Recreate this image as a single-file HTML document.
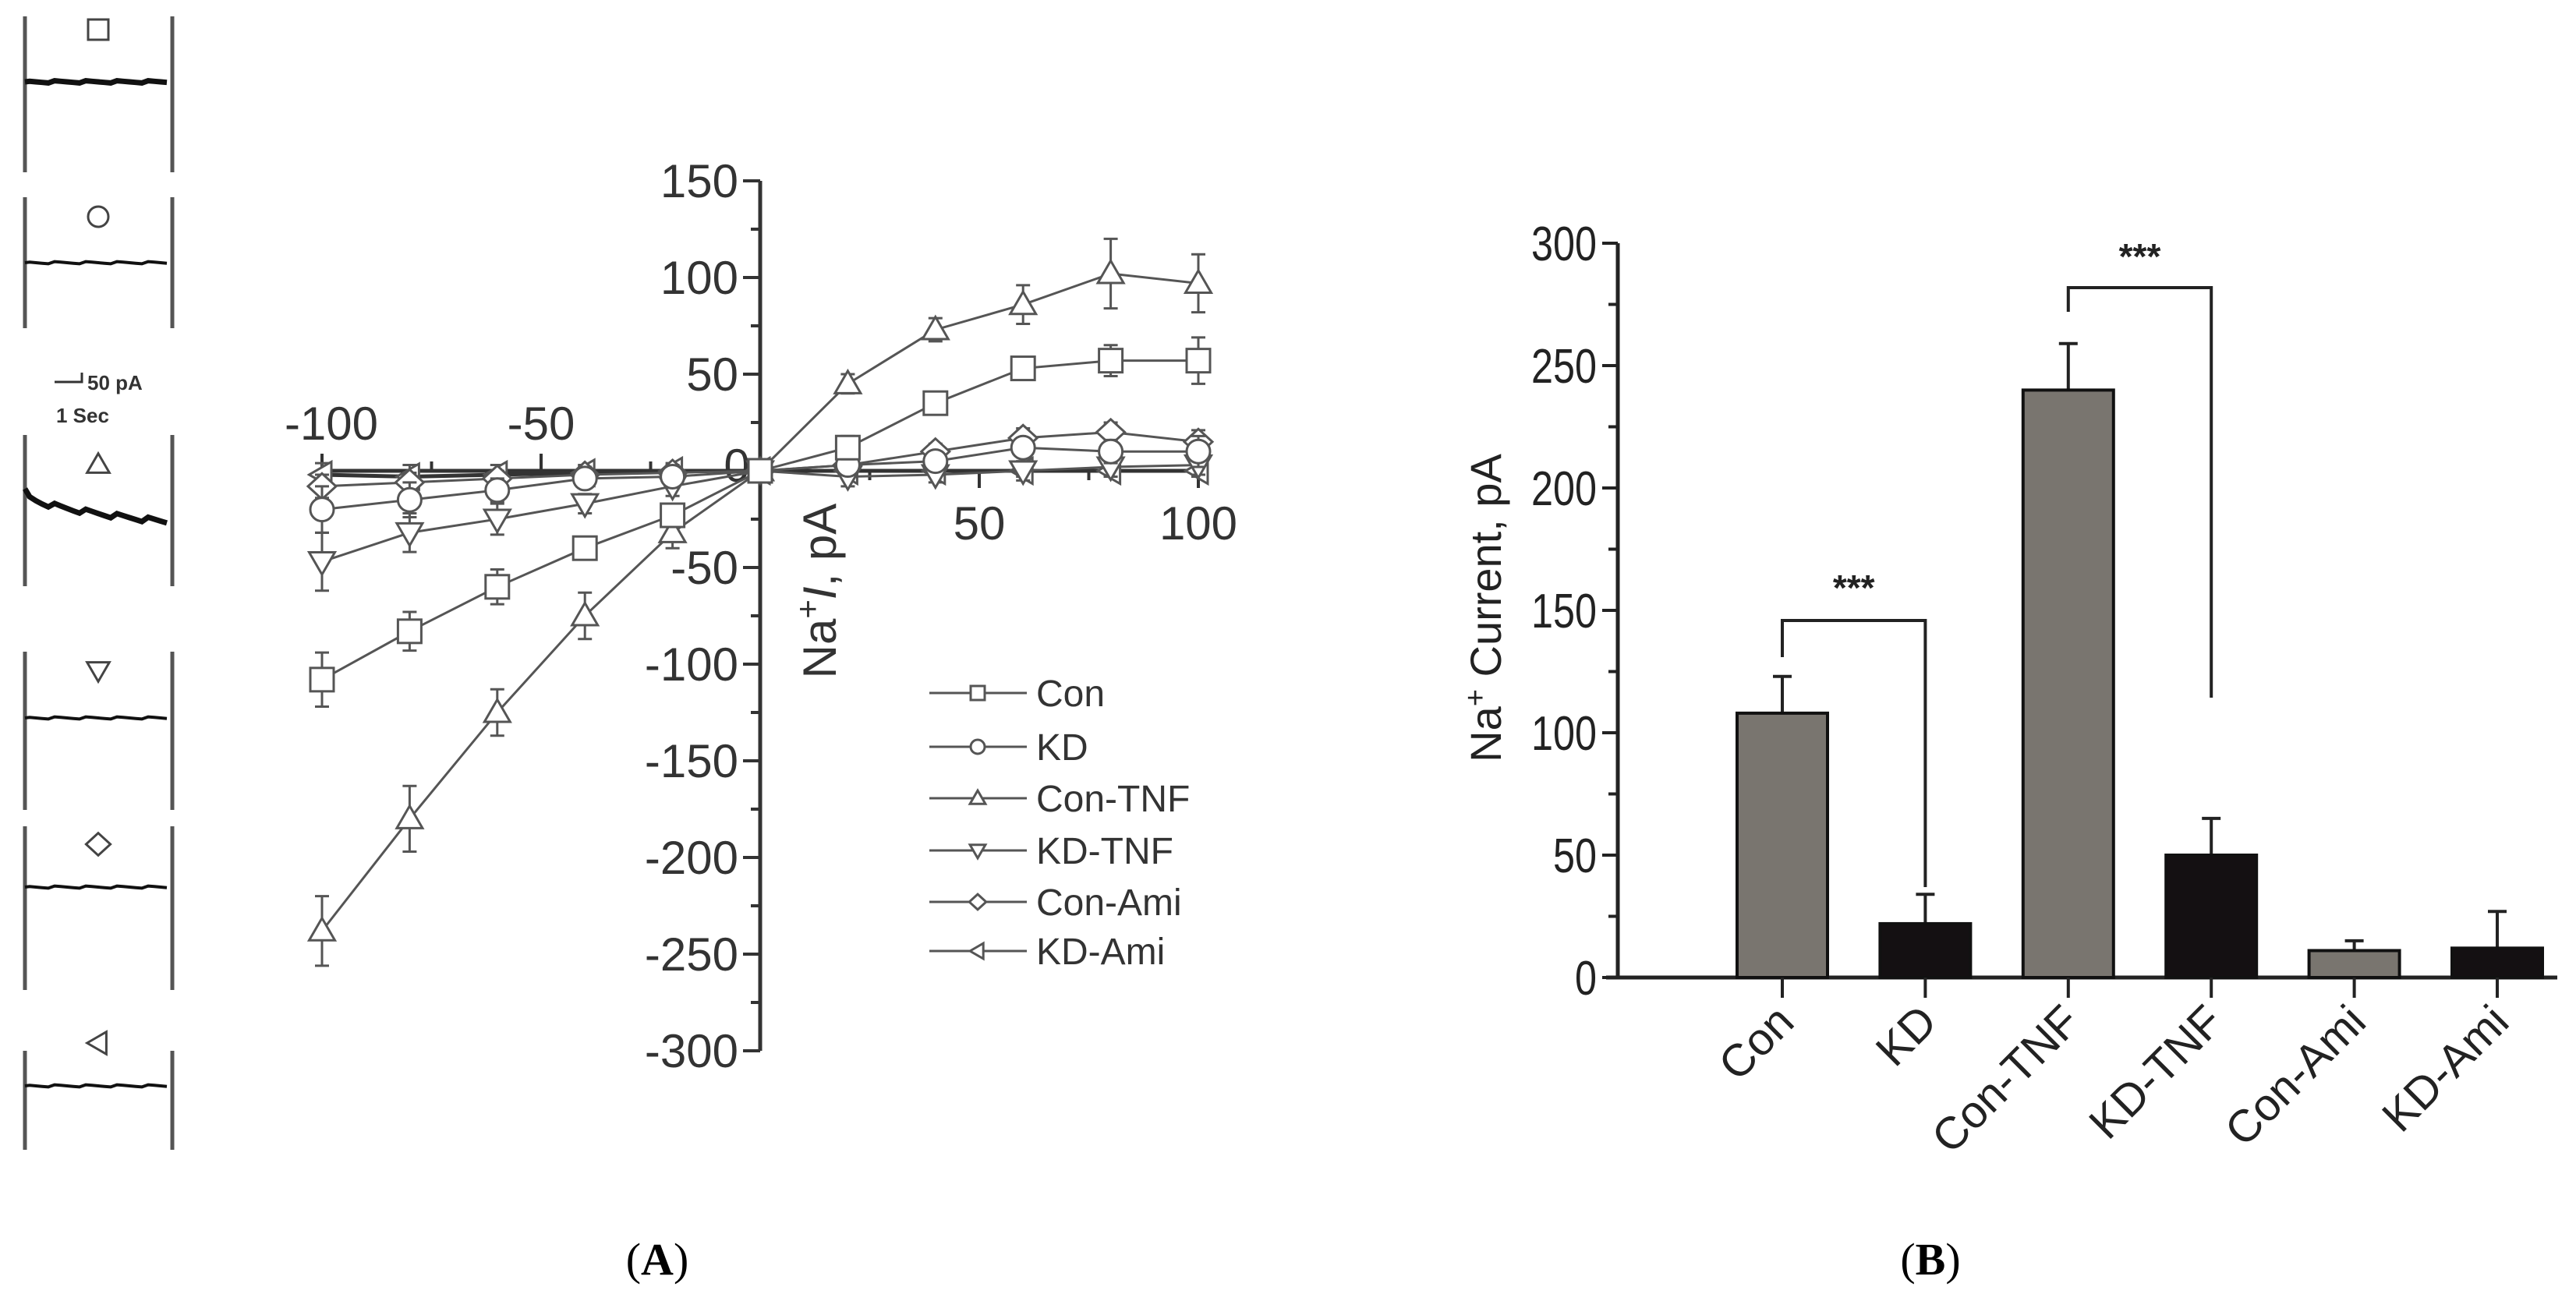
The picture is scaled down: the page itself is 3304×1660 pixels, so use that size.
<!DOCTYPE html>
<html><head><meta charset="utf-8"><style>
html,body{margin:0;padding:0;background:#fff;}
svg{display:block;font-family:"Liberation Sans",sans-serif;}
</style></head><body>
<svg id="fig" width="3304" height="1660" viewBox="0 0 3304 1660" xmlns="http://www.w3.org/2000/svg">
<rect width="3304" height="1660" fill="#fff"/>
<g id="traces"></g>
<g id="chartA"></g>
<g id="chartB"></g>
<text x="843" y="1635" font-family="Liberation Serif,serif" font-size="58" text-anchor="middle">(<tspan font-weight="bold">A</tspan>)</text>
<text x="2476" y="1635" font-family="Liberation Serif,serif" font-size="58" text-anchor="middle">(<tspan font-weight="bold">B</tspan>)</text>
</svg>
<script>
// ---- Chart A data ----
const voltages = [-100,-80,-60,-40,-20,0,20,40,60,80,100];
const seriesNames = ["Con","KD","Con-TNF","KD-TNF","Con-Ami","KD-Ami"];
const conVals = [-108,-83,-60,-40,-23,0,12,35,53,57,57];
const kdVals = [-20,-15,-10,-4,-3,0,3,5,12,10,10];
const conTnfVals = [-238,-180,-125,-75,-32,0,45,73,86,102,97];
const kdTnfVals = [-47,-32,-25,-17,-8,0,-3,-2,0,2,3];
const conAmiVals = [-8,-6,-4,-2,-1,0,3,10,17,20,15];
const kdAmiVals = [-2,-3,-2,-1,0,0,0,0,0,0,0];
const conErr = [14,10,9,5,5,3,6,4,5,8,12];
const kdErr = [12,9,6,4,4,3,4,4,5,6,8];
const conTnfErr = [18,17,12,12,8,3,5,6,10,18,15];
const kdTnfErr = [15,10,8,5,5,3,5,4,5,5,5];
const conAmiErr = [6,5,4,4,4,3,3,4,5,5,6];
const kdAmiErr = [6,6,5,4,4,3,3,3,3,3,3];
const yTicksA = [150,100,50,0,-50,-100,-150,-200,-250,-300];
// ---- Chart B data ----
const barCats = ["Con","KD","Con-TNF","KD-TNF","Con-Ami","KD-Ami"];
const barVals = [108,22,240,50,11,12];
const barErrs = [15,12,19,15,4,15];
const yTicksB = [0,50,100,150,200,250,300];

const NS="http://www.w3.org/2000/svg";
function mk(parent,tag,attrs,text){const e=document.createElementNS(NS,tag);for(const k in attrs)e.setAttribute(k,attrs[k]);if(text!==undefined)e.textContent=text;parent.appendChild(e);return e;}

// ---- traces ----
const tr=document.getElementById('traces');
const traceY=[105,337,632,921,1138,1393];
const barTop=[21,253,558,836,1060,1348], barBot=[221,421,752,1039,1270,1475];
const markY=[38,278,596,860,1083,1338];
const markers=["square","circle","up","down","diamond","left"];
function marker(g,type,cx,cy,s,stroke,sw){
  const a={fill:'#fff',stroke:stroke,'stroke-width':sw};
  if(type==='square')return mk(g,'rect',Object.assign({x:cx-s,y:cy-s,width:2*s,height:2*s},a));
  if(type==='circle')return mk(g,'circle',Object.assign({cx:cx,cy:cy,r:s},a));
  let p;
  if(type==='up')p=[[cx,cy-s*1.1],[cx+s*1.1,cy+s*0.8],[cx-s*1.1,cy+s*0.8]];
  if(type==='down')p=[[cx,cy+s*1.1],[cx+s*1.1,cy-s*0.8],[cx-s*1.1,cy-s*0.8]];
  if(type==='diamond')p=[[cx,cy-s*1.1],[cx+s*1.2,cy],[cx,cy+s*1.1],[cx-s*1.2,cy]];
  if(type==='left')p=[[cx-s*1.1,cy],[cx+s*0.8,cy-s*1.1],[cx+s*0.8,cy+s*1.1]];
  return mk(g,'polygon',Object.assign({points:p.map(q=>q.join(',')).join(' ')},a));
}
for(let i=0;i<6;i++){
  const g=mk(tr,'g',{});
  
  
  mk(g,'line',{x1:32,y1:barTop[i],x2:32,y2:barBot[i],stroke:'#555','stroke-width':5});
  mk(g,'line',{x1:221,y1:barTop[i],x2:221,y2:barBot[i],stroke:'#555','stroke-width':5});
  const y0=traceY[i]; const y1=(i===2)?y0+38:y0;
  let d='M32,'+(i===2?y0-5:y0);
  for(let x=38;x<=221;x+=8){const t=(x-32)/189;d+=' L'+x+','+(y0+(y1-y0)*Math.sqrt(t)+((x*7)%5-2)*(i===2?1.6:0.7)).toFixed(1);}
  mk(g,'path',{d:d,fill:'none',stroke:'#111','stroke-width':(i===0||i===2)?7:4});
  marker(g,markers[i],126,markY[i],13,'#444',3);
}
mk(tr,'path',{d:'M70,490 L105,490 L105,478',fill:'none',stroke:'#333','stroke-width':3});
const sc=mk(tr,'text',{x:112,y:500,'font-size':26,'font-weight':'bold',fill:'#333'},'50 pA');

const sc2=mk(tr,'text',{x:72,y:542,'font-size':26,'font-weight':'bold',fill:'#333'},'1 Sec');


// ---- Chart A ----
const A=document.getElementById('chartA');
const ax0=975, ay0=604, pxX=5.62, pxY=2.48;
const xA=v=>ax0+v*pxX, yA=v=>ay0-v*pxY;
const axc='#333';
mk(A,'line',{x1:ax0,y1:yA(150),x2:ax0,y2:yA(-300),stroke:axc,'stroke-width':5});
mk(A,'line',{x1:xA(-100),y1:ay0,x2:xA(100),y2:ay0,stroke:axc,'stroke-width':5});
for(let v=-300;v<=150;v+=25){const maj=v%50===0;mk(A,'line',{x1:ax0,y1:yA(v),x2:ax0-(maj?22:12),y2:yA(v),stroke:axc,'stroke-width':4});}
for(let v=-100;v<=100;v+=25){if(v===0)continue;const maj=v%50===0;const dir=v<0?-1:1;mk(A,'line',{x1:xA(v),y1:ay0,x2:xA(v),y2:ay0+dir*(maj?22:12),stroke:axc,'stroke-width':4});}
yTicksA.forEach(v=>{if(v===0)return;const t=mk(A,'text',{x:ax0-28,y:yA(v)+21,'font-size':60,'text-anchor':'end',fill:'#333'},String(v));
});
[[-100,564],[-50,564],[50,692],[100,692]].forEach(p=>{const t=mk(A,'text',{x:xA(p[0])+(p[0]===-100?12:0),y:p[1],'font-size':60,'text-anchor':'middle',fill:'#333'},String(p[0]));
});
const z=mk(A,'text',{x:945,y:618,'font-size':60,'text-anchor':'middle',fill:'#333'},'0');

const yl=mk(A,'text',{transform:'translate(1072,758) rotate(-90)','font-size':60,'text-anchor':'middle',fill:'#333'});

yl.innerHTML='Na<tspan dy="-22" font-size="42">+</tspan><tspan dy="22" font-style="italic">I</tspan>, pA';
const allVals=[conVals,kdVals,conTnfVals,kdTnfVals,conAmiVals,kdAmiVals];
const allErr=[conErr,kdErr,conTnfErr,kdTnfErr,conAmiErr,kdAmiErr];
const sc_col=['#555','#555','#555','#555','#555','#333'];
for(let s=5;s>=0;s--){
  const g=mk(A,'g',{});
  
  
  const vals=allVals[s], err=allErr[s];
  mk(g,'polyline',{points:voltages.map((v,i)=>xA(v)+','+yA(vals[i])).join(' '),fill:'none',stroke:sc_col[s],'stroke-width':s===5?5:3});
  voltages.forEach((v,i)=>{
    const x=xA(v),y=yA(vals[i]),e=err[i]*pxY;
    mk(g,'line',{x1:x,y1:y-e,x2:x,y2:y+e,stroke:'#555','stroke-width':3});
    mk(g,'line',{x1:x-9,y1:y-e,x2:x+9,y2:y-e,stroke:'#555','stroke-width':3});
    mk(g,'line',{x1:x-9,y1:y+e,x2:x+9,y2:y+e,stroke:'#555','stroke-width':3});
    const m=marker(g,markers[s],x,y,15,'#555',3);
    
    
  });
}
const legY=[889,958,1024,1091,1157,1220];
seriesNames.forEach((n,i)=>{
  const g=mk(A,'g',{});
  
  
  mk(g,'line',{x1:1192,y1:legY[i],x2:1317,y2:legY[i],stroke:'#555','stroke-width':3});
  marker(g,markers[i],1254,legY[i],9,'#555',3);
  mk(g,'text',{x:1329,y:legY[i]+17,'font-size':48,fill:'#333'},n);
});

// ---- Chart B ----
const B=document.getElementById('chartB');
const bx0=2075, by0=1254, bTop=312, pyB=(by0-bTop)/300;
const yB=v=>by0-v*pyB;
const xB=i=>2286+i*183.4;
mk(B,'line',{x1:bx0,y1:bTop,x2:bx0,y2:by0,stroke:'#222','stroke-width':5});
mk(B,'line',{x1:2060,y1:by0,x2:3280,y2:by0,stroke:'#222','stroke-width':5});
for(let v=0;v<=300;v+=25){const maj=v%50===0;mk(B,'line',{x1:bx0,y1:yB(v),x2:bx0-(maj?20:12),y2:yB(v),stroke:'#222','stroke-width':4});}
yTicksB.forEach(v=>{const t=mk(B,'text',{x:2048,y:yB(v)+22,'font-size':62,'text-anchor':'end',fill:'#222',textLength:String(v).length*28,lengthAdjust:'spacingAndGlyphs'},String(v));
});
const ylb=mk(B,'text',{transform:'translate(1925,780) rotate(-90)','font-size':56,'text-anchor':'middle',fill:'#222'});

ylb.innerHTML='Na<tspan dy="-20" font-size="38">+</tspan><tspan dy="20"> Current, pA</tspan>';
barCats.forEach((c,i)=>{
  const x=xB(i), w=116, col=(i%2===0)?'#79756f':'#141012';
  const e=barErrs[i]*pyB, top=yB(barVals[i]);
  mk(B,'line',{x1:x,y1:top,x2:x,y2:top-e,stroke:'#222','stroke-width':4});
  mk(B,'line',{x1:x-12,y1:top-e,x2:x+12,y2:top-e,stroke:'#222','stroke-width':4});
  const r=mk(B,'rect',{x:x-w/2,y:top,width:w,height:by0-top,fill:col,stroke:'#111','stroke-width':4});
  
  
  mk(B,'line',{x1:x,y1:by0,x2:x,y2:by0+26,stroke:'#222','stroke-width':4});
  const t=mk(B,'text',{transform:'translate('+(x+18)+','+(by0+60)+') rotate(-45)','font-size':58,'text-anchor':'end',fill:'#222'},c);
  
  
});
function bracket(i,j,yt,yl,yr,sy){
  const g=mk(B,'g',{});
  
  
  mk(g,'path',{d:'M'+xB(i)+','+yl+' L'+xB(i)+','+yt+' L'+xB(j)+','+yt+' L'+xB(j)+','+yr,fill:'none',stroke:'#222','stroke-width':4});
  mk(g,'text',{x:(xB(i)+xB(j))/2,y:sy,'font-size':46,'font-weight':'bold','text-anchor':'middle',fill:'#222'},'***');
}
bracket(0,1,796,843,1138,770);
bracket(2,3,369,400,895,345);
</script>
</body></html>
